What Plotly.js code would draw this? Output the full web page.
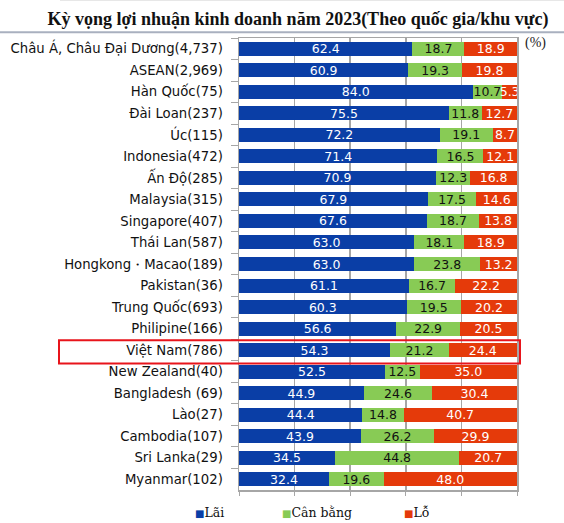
<!DOCTYPE html>
<html><head><meta charset="utf-8">
<script src="https://cdn.plot.ly/plotly-3.0.1.min.js"></script>
<style>html,body{margin:0;padding:0;background:#fff;}#chart{width:564px;height:523px;}</style>
</head><body><div id="chart"></div>
<script>
const categories = ['Châu Á, Châu Đại Dương(4,737)','ASEAN(2,969)','Hàn Quốc(75)','Đài Loan(237)','Úc(115)','Indonesia(472)','Ấn Độ(285)','Malaysia(315)','Singapore(407)','Thái Lan(587)','Hongkong・Macao(189)','Pakistan(36)','Trung Quốc(693)','Philipine(166)','Việt Nam(786)','New Zealand(40)','Bangladesh (69)','Lào(27)','Cambodia(107)','Sri Lanka(29)','Myanmar(102)'].map(s=>s.normalize('NFC'));
const lai = [62.4,60.9,84.0,75.5,72.2,71.4,70.9,67.9,67.6,63.0,63.0,61.1,60.3,56.6,54.3,52.5,44.9,44.4,43.9,34.5,32.4];
const canBang = [18.7,19.3,10.7,11.8,19.1,16.5,12.3,17.5,18.7,18.1,23.8,16.7,19.5,22.9,21.2,12.5,24.6,14.8,26.2,44.8,19.6];
const lo = [18.9,19.8,5.3,12.7,8.7,12.1,16.8,14.6,13.8,18.9,13.2,22.2,20.2,20.5,24.4,35.0,30.4,40.7,29.9,20.7,48.0];
const seriesNames = ['L\u00E3i','C\u00E2n b\u1EB1ng','L\u1ED7'];
const highlighted = 'Việt Nam(786)'.normalize('NFC');
const titleText = 'Kỳ vọng lợi nhuận kinh doanh năm 2023(Theo quốc gia/khu vực)'.normalize('NFC');
const unitText = '(%)';

const colors = ['#0a3ea6','#88cb55','#e53a0a'];
const textColors = ['#ffffff','#111111','#ffffff'];
const vals = [lai, canBang, lo];

const traces = vals.map((v,i)=>({
  type:'bar', orientation:'h', name:seriesNames[i], y:categories, x:v,
  marker:{color:colors[i], line:{width:0}},
  text:v.map(n=>n.toFixed(1)), textposition:'inside', insidetextanchor:'middle',
  textangle:0, constraintext:'none',
  textfont:{family:'DejaVu Sans', size:12.5, color:textColors[i]},
  hoverinfo:'skip', showlegend:false
}));

const L=239, R=517, T=38.3, B=490;
const W=R-L, H=B-T;
const px=x=>(x-L)/W, py=y=>(B-y)/H;

const hi = categories.indexOf(highlighted);
const legendX=[193,280,402];
const annotations = [
  {xref:'paper',yref:'paper',x:px(535),y:py(43),text:unitText,showarrow:false,xanchor:'center',yanchor:'middle',font:{family:'Liberation Serif',size:14,color:'#222'}}
].concat(seriesNames.map((n,i)=>({
  xref:'paper',yref:'paper',x:px(legendX[i]),y:py(512),xanchor:'left',yanchor:'middle',showarrow:false,
  text:'<span style="font-size:10px;color:'+colors[i]+'">■</span>'+n,
  font:{family:'DejaVu Serif',size:12.5,color:'#111'}
})));

const layout = {
  width:564, height:523, barmode:'stack', bargap:0.35,
  margin:{l:L, r:564-R, t:T, b:523-B, pad:0},
  paper_bgcolor:'#fff', plot_bgcolor:'#fff',
  title:{text:'<b>'+titleText+'</b>', x:298/564, xanchor:'center', y:1-19/523, yanchor:'middle', yref:'container', xref:'container',
    font:{family:'Liberation Serif', size:18, color:'#111'}},
  xaxis:{range:[0,100], showticklabels:false, tickvals:[0,20,40,60,80,100], ticks:'outside', ticklen:4, tickcolor:'#a6a6a6',
    showgrid:true, gridcolor:'#a6a6a6', gridwidth:1.5, showline:true, linecolor:'#a6a6a6', linewidth:1.5, mirror:true, zeroline:false, fixedrange:true},
  yaxis:{type:'category', autorange:'reversed', tickson:'boundaries', ticks:'outside', ticklen:7, tickcolor:'#a6a6a6',
    showline:true, linecolor:'#a6a6a6', linewidth:1.5, mirror:true, showgrid:false, ticklabelstandoff:12,
    tickfont:{family:'DejaVu Sans', size:13.25, color:'#111'}, fixedrange:true},
  shapes:[
    {type:'rect', xref:'paper', yref:'y', x0:px(59), x1:px(520), y0:hi-0.54+0.08, y1:hi+0.54+0.08, line:{color:'#e8141b', width:2}, fillcolor:'rgba(0,0,0,0)'},
    {type:'line', xref:'paper', yref:'paper', x0:px(0), x1:px(564), y0:py(32.5), y1:py(32.5), line:{color:'#a9b0bf', width:2}},
    {type:'line', xref:'paper', yref:'paper', x0:px(60), x1:px(564), y0:py(0.5), y1:py(0.5), line:{color:'#dcdcdc', width:1}}
  ],
  annotations:annotations,
  showlegend:false
};
Plotly.newPlot('chart', traces, layout, {displayModeBar:false, staticPlot:true});
</script></body></html>
